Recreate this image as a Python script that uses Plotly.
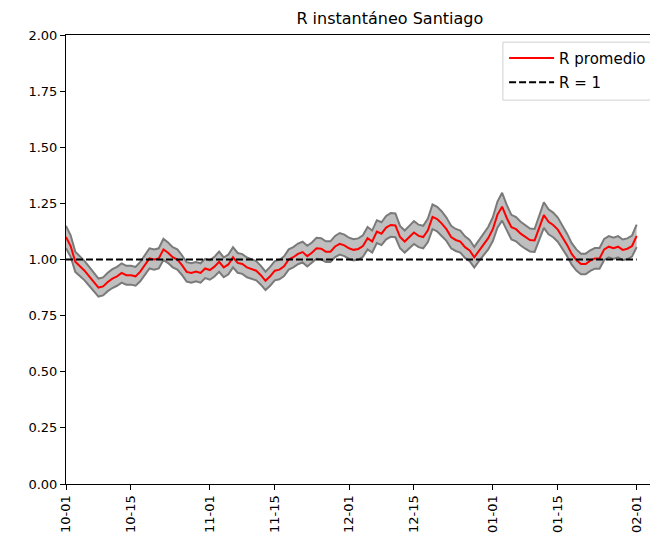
import datetime as dt
import plotly.graph_objects as go

start = dt.date(2020, 10, 1)

r_mean = [
    1.10, 1.06, 0.99, 0.97, 0.95, 0.925, 0.90, 0.875, 0.88, 0.90,
    0.915, 0.925, 0.94, 0.93, 0.93, 0.925, 0.946, 0.975, 1.005, 1.00,
    1.005, 1.045, 1.03, 1.01, 1.00, 0.975, 0.945, 0.94, 0.946, 0.94,
    0.96, 0.953, 0.968, 0.99, 0.965, 0.978, 1.01, 0.985, 0.98, 0.965,
    0.957, 0.95, 0.93, 0.905, 0.925, 0.95, 0.955, 0.97, 1.00, 1.01,
    1.025, 1.033, 1.015, 1.03, 1.05, 1.048, 1.035, 1.035, 1.058, 1.07,
    1.063, 1.05, 1.043, 1.047, 1.06, 1.095, 1.08, 1.124, 1.115, 1.142,
    1.154, 1.152, 1.10, 1.08, 1.10, 1.12, 1.105, 1.10, 1.13, 1.19,
    1.18, 1.16, 1.135, 1.10, 1.087, 1.08, 1.055, 1.04, 1.01, 1.04,
    1.065, 1.095, 1.135, 1.20, 1.235, 1.185, 1.144, 1.135, 1.115, 1.10,
    1.087, 1.085, 1.14, 1.198, 1.168, 1.154, 1.133, 1.10, 1.065, 1.025,
    0.998, 0.98, 0.98, 0.995, 1.005, 1.005, 1.045, 1.057, 1.05, 1.057,
    1.043, 1.048, 1.06, 1.105,
]

band_half = [
    0.050, 0.048, 0.045, 0.044, 0.043, 0.042, 0.041, 0.040, 0.040, 0.041,
    0.042, 0.042, 0.043, 0.042, 0.042, 0.042, 0.043, 0.044, 0.045, 0.045,
    0.045, 0.047, 0.046, 0.045, 0.045, 0.044, 0.043, 0.043, 0.043, 0.043,
    0.043, 0.043, 0.044, 0.045, 0.044, 0.044, 0.045, 0.044, 0.044, 0.044,
    0.043, 0.043, 0.042, 0.041, 0.042, 0.043, 0.043, 0.044, 0.045, 0.045,
    0.046, 0.046, 0.046, 0.046, 0.047, 0.047, 0.046, 0.046, 0.047, 0.048,
    0.048, 0.047, 0.047, 0.047, 0.048, 0.050, 0.049, 0.051, 0.051, 0.052,
    0.053, 0.053, 0.050, 0.049, 0.050, 0.051, 0.050, 0.050, 0.052, 0.055,
    0.055, 0.054, 0.052, 0.050, 0.049, 0.049, 0.048, 0.047, 0.046, 0.047,
    0.048, 0.050, 0.053, 0.058, 0.062, 0.058, 0.055, 0.054, 0.053, 0.052,
    0.051, 0.051, 0.054, 0.057, 0.056, 0.055, 0.054, 0.052, 0.050, 0.048,
    0.047, 0.046, 0.046, 0.046, 0.046, 0.046, 0.047, 0.047, 0.047, 0.047,
    0.046, 0.046, 0.047, 0.050,
]

tick_dates = ["2020-10-01", "2020-10-15", "2020-11-01", "2020-11-15", "2020-12-01",
              "2020-12-15", "2021-01-01", "2021-01-15", "2021-02-01"]
tick_labels = ["10-01", "10-15", "11-01", "11-15", "12-01", "12-15", "01-01", "01-15", "02-01"]
y_ticks = [0.0, 0.25, 0.5, 0.75, 1.0, 1.25, 1.5, 1.75, 2.0]

dates = [start + dt.timedelta(days=i) for i in range(len(r_mean))]
lower = [m - h for m, h in zip(r_mean, band_half)]
upper = [m + h for m, h in zip(r_mean, band_half)]

fig = go.Figure()
fig.add_trace(go.Scatter(x=dates, y=lower, mode="lines",
                         line=dict(color="rgb(122,122,122)", width=2),
                         showlegend=False, hoverinfo="skip"))
fig.add_trace(go.Scatter(x=dates, y=upper, mode="lines", fill="tonexty",
                         fillcolor="rgba(128,128,128,0.5)",
                         line=dict(color="rgb(122,122,122)", width=2),
                         showlegend=False, hoverinfo="skip"))
fig.add_trace(go.Scatter(x=dates, y=r_mean, mode="lines", name="R promedio",
                         line=dict(color="red", width=2), legend="legend"))
fig.add_trace(go.Scatter(x=[dates[0], dates[-1]], y=[1, 1], mode="lines", name="R = 1",
                         line=dict(color="black", width=2, dash="7px,3px"), legend="legend2"))

x_end = dt.datetime(2020, 10, 1) + dt.timedelta(days=127.6)

leg_common = dict(xanchor="left", yanchor="top", bgcolor="rgba(0,0,0,0)",
                  borderwidth=0, font=dict(size=15, color="black"), itemwidth=45)

fig.update_layout(
    width=658, height=549,
    margin=dict(l=58, r=8, t=27, b=73),
    paper_bgcolor="white", plot_bgcolor="white",
    font=dict(family="DejaVu Sans", size=13, color="black"),
    title=dict(text="R instantáneo Santiago", x=0.547, xref="paper", xanchor="center",
               y=0.981, yref="container", yanchor="middle",
               font=dict(size=16, color="black")),
    legend=dict(x=0.74, y=0.985, **leg_common),
    legend2=dict(x=0.74, y=0.931, **leg_common),
    showlegend=True,
    shapes=[dict(type="rect", xref="paper", yref="paper", x0=0.738, x1=1.06,
                 y0=0.855, y1=0.984, line=dict(color="#d0d0d0", width=1),
                 fillcolor="rgba(255,255,255,0.8)", layer="above")],
)
fig.update_xaxes(range=[dt.datetime(2020, 10, 1), x_end],
                 tickvals=tick_dates, ticktext=tick_labels, tickangle=-90,
                 showgrid=False, zeroline=False, showline=True, linecolor="black",
                 linewidth=1, mirror=True, ticks="outside", ticklen=5,
                 tickcolor="black", tickfont=dict(size=13), automargin=False)
fig.update_yaxes(range=[0, 2.0], tickvals=y_ticks, tickformat=".2f",
                 showgrid=False, zeroline=False, showline=True, linecolor="black",
                 linewidth=1, mirror=False, ticks="outside", ticklen=5,
                 tickcolor="black", tickfont=dict(size=13), automargin=False)

fig.write_html("out.html")
